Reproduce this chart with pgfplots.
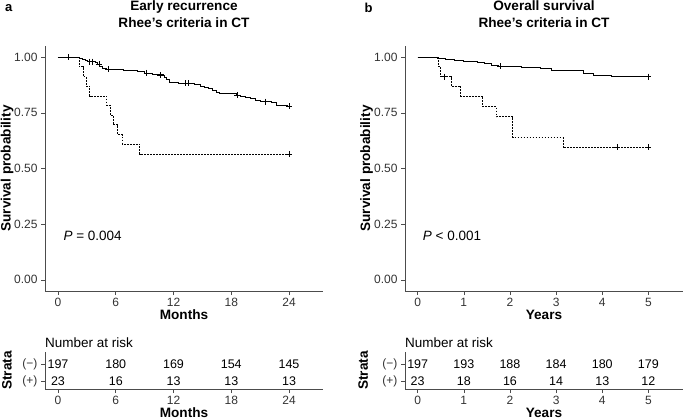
\documentclass[border=0pt]{standalone}
\usepackage{fontspec}
\setmainfont{Liberation Sans}
\usepackage{pgfplots}
\pgfplotsset{compat=1.18}

\newcommand\tickf{\fontsize{12}{14}\selectfont}
\newcommand\labf{\fontsize{13.6}{16}\selectfont\bfseries}

\pgfplotsset{
  base/.style={scale only axis, width=278pt, anchor=south west,
    axis x line*=bottom, axis y line*=left,
    axis line style={-, black!70, line width=0.6pt},
    tick align=outside, major tick length=4pt,
    tick style={black!70, line width=0.6pt},
    tick label style={font=\tickf, text=black!80},
    /pgf/number format/assume math mode=true},
  km/.style={base, height=245pt, ymin=-0.05, ymax=1.05,
    ytick={0,0.25,0.5,0.75,1},
    yticklabel style={/pgf/number format/fixed, /pgf/number format/fixed zerofill,
      /pgf/number format/precision=2}},
  risk/.style={base, height=37pt, ymin=0.53, ymax=2.7,
    ytick={1,2}, yticklabels={(+),(−)}},
  surv/.style={black, line width=0.7pt, const plot mark left, mark=none},
  cens/.style={only marks, mark=+, mark size=3pt, black, line width=0.7pt},
  nums/.style={draw=none, mark=none, nodes near coords, point meta=explicit symbolic,
    nodes near coords align=center,
    every node near coord/.append style={font=\fontsize{12.5}{14}\selectfont, text=black}},
}

\begin{document}
\begin{tikzpicture}
\useasboundingbox (0,0) rectangle (685pt,-420pt);

% ---- panel a: early recurrence ----
\begin{axis}[km, at={(45pt,-291pt)}, xmin=-1.35, xmax=27.53, xtick={0,6,12,18,24}]
\addplot[surv, dash pattern=on 1.8pt off 1.2pt] coordinates {
 (0,1) (2.2,0.957) (2.6,0.913) (2.9,0.870) (3.3,0.826) (5.05,0.783) (5.4,0.739)
 (5.7,0.696) (6.2,0.652) (6.7,0.609) (8.5,0.565) (24,0.565)};
\addplot[surv] coordinates {
 (0,1) (2.2,0.995) (2.5,0.990) (2.8,0.985) (3.1,0.980) (3.9,0.975) (4.1,0.969)
 (4.3,0.959) (4.6,0.949) (5.0,0.945) (6.8,0.940) (8.2,0.935) (9.0,0.929)
 (9.8,0.924) (10.9,0.919) (11.1,0.909) (11.3,0.899) (11.6,0.889) (12.5,0.882)
 (14.2,0.876) (14.8,0.870) (15.2,0.864) (15.6,0.858) (16.0,0.849) (16.5,0.843)
 (16.8,0.837) (18.5,0.830) (18.9,0.825) (19.5,0.819) (20.0,0.813) (20.5,0.806)
 (21.0,0.800) (22.2,0.795) (22.7,0.785) (23.8,0.780) (24,0.780)};
\addplot[cens] coordinates {(1.06,1) (3.3,0.980) (3.6,0.980) (4.25,0.969) (5.2,0.945)
 (9.2,0.929) (10.6,0.919) (13.2,0.882) (13.5,0.882) (18.6,0.830) (21.5,0.800) (24,0.780)};
\addplot[cens] coordinates {(24,0.565)};
\end{axis}

\begin{axis}[risk, at={(45pt,-389pt)}, xmin=-1.35, xmax=27.53, xtick={0,6,12,18,24}]
\addplot[nums] coordinates {(0,2)[197] (6,2)[180] (12,2)[169] (18,2)[154] (24,2)[145]};
\addplot[nums] coordinates {(0,1)[23] (6,1)[16] (12,1)[13] (18,1)[13] (24,1)[13]};
\end{axis}

% ---- panel b: overall survival ----
\begin{axis}[km, at={(405pt,-291pt)}, xmin=-0.275, xmax=5.75, xtick={0,1,2,3,4,5}]
\addplot[surv, dash pattern=on 1.8pt off 1.2pt] coordinates {
 (0,1) (0.45,0.957) (0.50,0.913) (0.72,0.870) (0.93,0.826) (1.41,0.778)
 (1.70,0.732) (2.06,0.640) (3.15,0.595) (5,0.595)};
\addplot[surv] coordinates {
 (0,1) (0.42,0.995) (0.6,0.990) (0.8,0.985) (1.0,0.980) (1.3,0.975) (1.45,0.970)
 (1.6,0.965) (1.75,0.960) (2.25,0.954) (2.65,0.949) (2.9,0.939) (3.6,0.929)
 (3.8,0.919) (4.2,0.913) (5,0.913)};
\addplot[cens] coordinates {(1.79,0.960) (5,0.913)};
\addplot[cens] coordinates {(0.58,0.913) (4.32,0.595) (5,0.595)};
\end{axis}

\begin{axis}[risk, at={(405pt,-389pt)}, xmin=-0.275, xmax=5.75, xtick={0,1,2,3,4,5}]
\addplot[nums] coordinates {(0,2)[197] (1,2)[193] (2,2)[188] (3,2)[184] (4,2)[180] (5,2)[179]};
\addplot[nums] coordinates {(0,1)[23] (1,1)[18] (2,1)[16] (3,1)[14] (4,1)[13] (5,1)[12]};
\end{axis}

% ---- titles and labels ----
\node[anchor=base west, font=\fontsize{13}{15}\selectfont\bfseries] at (1.5pt,-11.7pt) {a};
\node[anchor=base west, font=\fontsize{13}{15}\selectfont\bfseries] at (361pt,-12.3pt) {b};
\node[anchor=base, font=\labf] at (184pt,-10.5pt) {Early recurrence};
\node[anchor=base, font=\labf] at (184pt,-28pt) {Rhee’s criteria in CT};
\node[anchor=base, font=\labf] at (544pt,-10.5pt) {Overall survival};
\node[anchor=base, font=\labf] at (544pt,-28pt) {Rhee’s criteria in CT};

\node[font=\labf] at (184pt,-315pt) {Months};
\node[font=\labf] at (544pt,-315pt) {Years};
\node[font=\labf] at (184pt,-412.7pt) {Months};
\node[font=\labf] at (544pt,-412.7pt) {Years};
\node[font=\labf, rotate=90] at (7pt,-168.5pt) {Survival probability};
\node[font=\labf, rotate=90] at (366.5pt,-168.5pt) {Survival probability};
\node[font=\labf, rotate=90] at (7pt,-370.5pt) {Strata};
\node[font=\labf, rotate=90] at (363.3pt,-370.5pt) {Strata};

\node[anchor=west, inner sep=0pt, font=\fontsize{13.5}{16}\selectfont] at (45pt,-342.3pt) {Number at risk};
\node[anchor=west, inner sep=0pt, font=\fontsize{13.5}{16}\selectfont] at (405pt,-342.3pt) {Number at risk};
\node[anchor=west, inner sep=0pt, font=\fontsize{13.5}{16}\selectfont] at (63.3pt,-236pt) {\textit{P} = 0.004};
\node[anchor=west, inner sep=0pt, font=\fontsize{13.5}{16}\selectfont] at (422.7pt,-236pt) {\textit{P} < 0.001};
\end{tikzpicture}
\end{document}
